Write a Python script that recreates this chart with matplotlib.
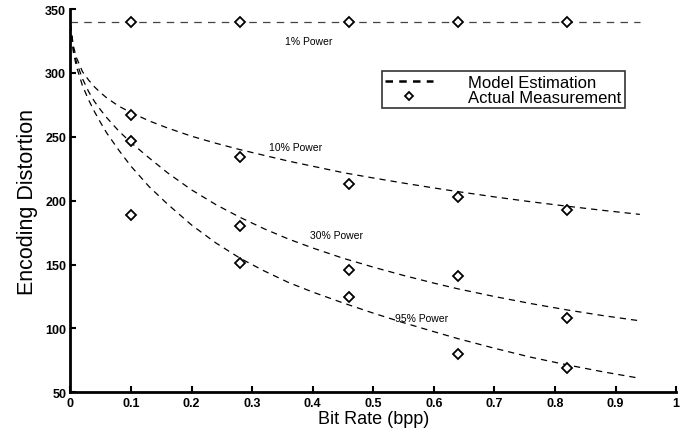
import matplotlib
matplotlib.use('Agg')
import matplotlib.pyplot as plt
from matplotlib.lines import Line2D

plt.rcParams['font.family'] = ['Liberation Sans', 'DejaVu Sans']

# measured points (bit rate, distortion)
meas_x = [0.1, 0.28, 0.46, 0.64, 0.82]
meas_1 = [340, 340, 340, 340, 340]
meas_10 = [267, 234, 213, 203, 193]
meas_30 = [247, 180, 146, 141, 108]
meas_95 = [189, 151, 125, 80, 69]

# model curves
model_1_x = [0.0, 0.94]
model_1_y = [340, 340]
curve_x = [0.0, 0.005, 0.01, 0.02, 0.03, 0.04, 0.05, 0.06, 0.08, 0.1, 0.13, 0.16, 0.2, 0.24,
           0.28, 0.32, 0.36, 0.4, 0.45, 0.5, 0.55, 0.6, 0.64, 0.7, 0.76, 0.82, 0.88, 0.94]
model_10_y = [338, 321, 312, 301, 294.5, 289, 284.5, 280.5, 274, 269, 262.5, 257, 250.5, 245,
              240, 235.5, 231, 227, 222, 217.8, 213.8, 210, 207.1, 203, 199.2, 195.7, 192.4, 189.3]
model_30_y = [338, 318, 308.5, 295.5, 285.5, 277.5, 271, 265, 254.5, 245.5, 233.5, 222, 208.5, 197,
              187, 178, 170, 163, 155, 148, 141.5, 135.5, 131, 125, 119.5, 114.5, 110, 106]
model_95_y = [338, 316, 305, 290, 279, 269.5, 261, 253, 239.5, 227, 211, 197.5, 181, 167,
              155, 145, 136, 128.5, 120, 112, 104.5, 97.5, 92, 84.5, 77.5, 71.5, 66, 61]

labels = ['1% Power', '10% Power', '30% Power', '95% Power']
label_pos = [(0.394, 325), (0.371, 242), (0.439, 173), (0.579, 108)]

fig = plt.figure(figsize=(6.9, 4.39), dpi=100)
ax = fig.add_axes([0.102, 0.104, 0.878, 0.873])

dash = dict(color='black', lw=0.9, linestyle=(0, (5, 4)))
ax.plot(model_1_x, model_1_y, color='#444444', lw=0.9, linestyle=(0, (6, 5)))
ax.plot(curve_x, model_10_y, **dash)
ax.plot(curve_x, model_30_y, **dash)
ax.plot(curve_x, model_95_y, **dash)

mk = dict(marker='D', ms=5.5, mfc='white', mec='black', mew=1.3, linestyle='none')
for ys in [meas_1, meas_10, meas_30, meas_95]:
    ax.plot(meas_x, ys, **mk)

for txt, (x, y) in zip(labels, label_pos):
    ax.text(x, y, txt, fontsize=7.5, ha='center', va='center')

ax.set_xlim(0, 1)
ax.set_ylim(50, 350)
ax.set_xticks([0, 0.1, 0.2, 0.3, 0.4, 0.5, 0.6, 0.7, 0.8, 0.9, 1])
ax.set_xticklabels(['0', '0.1', '0.2', '0.3', '0.4', '0.5', '0.6', '0.7', '0.8', '0.9', '1'])
ax.set_yticks([50, 100, 150, 200, 250, 300, 350])
ax.tick_params(direction='in', length=4, width=1.5, labelsize=9, pad=3)
for lab in ax.get_xticklabels() + ax.get_yticklabels():
    lab.set_fontweight('bold')
for s in ['top', 'right']:
    ax.spines[s].set_visible(False)
for s in ['left', 'bottom']:
    ax.spines[s].set_linewidth(2)

ax.set_xlabel('Bit Rate (bpp)', fontsize=13, labelpad=1)
ax.set_ylabel('Encoding Distortion', fontsize=15.5, labelpad=5)

handles = [Line2D([], [], color='black', lw=1.8, linestyle=(0, (3, 2.5))),
           Line2D([], [], marker='D', ms=4.5, mfc='white', mec='black', mew=1.3, linestyle='none')]
leg = ax.legend(handles, ['Model Estimation', 'Actual Measurement'], loc='upper left',
                bbox_to_anchor=(0.514, 0.838), fontsize=12, frameon=True, fancybox=False,
                handlelength=2.9, handletextpad=2.1, labelspacing=0.0, borderpad=0.2,
                borderaxespad=0)
leg.get_frame().set_edgecolor('black')
leg.get_frame().set_linewidth(1.2)

fig.savefig('out.png', dpi=100)
